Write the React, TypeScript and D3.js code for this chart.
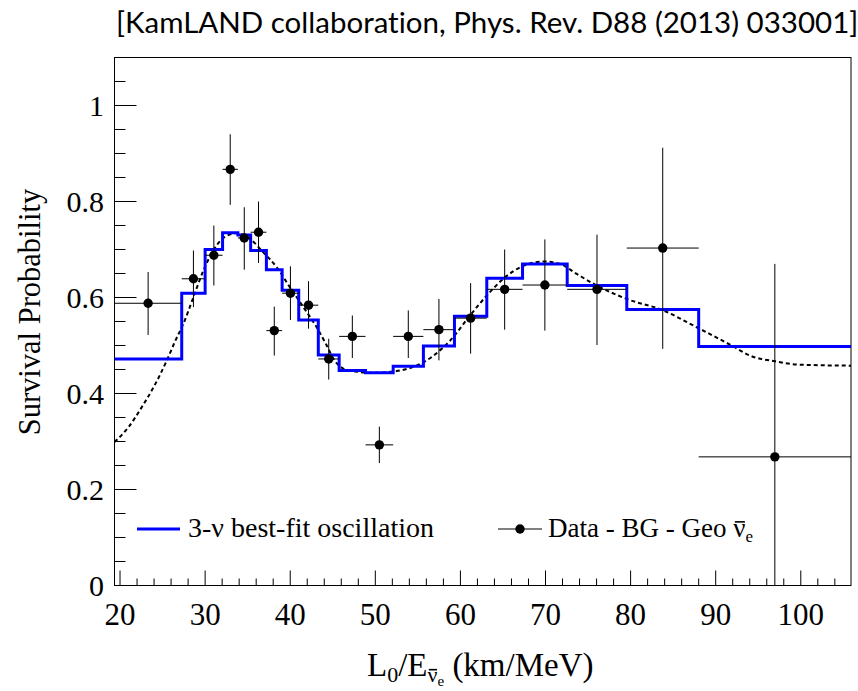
import React, { useLayoutEffect, useRef, useState } from 'react';
import * as d3 from 'd3';

const binEdges = [19.35, 27.25, 30.0, 32.05, 33.85, 35.35, 37.2, 39.05, 41.0, 43.3, 45.75, 48.85, 52.1, 55.65, 59.3, 63.1, 67.3, 72.55, 79.55, 88.0, 105.9];
const bestFit = [0.472, 0.609, 0.700, 0.735, 0.730, 0.698, 0.658, 0.615, 0.553, 0.480, 0.448, 0.443, 0.457, 0.499, 0.561, 0.640, 0.670, 0.625, 0.575, 0.498];
const dataValues = [0.588, 0.639, 0.688, 0.867, 0.724, 0.736, 0.531, 0.609, 0.584, 0.472, 0.519, 0.293, 0.519, 0.533, 0.557, 0.617, 0.626, 0.617, 0.703, 0.268];
const dataLow = [0.522, 0.580, 0.625, 0.793, 0.658, 0.672, 0.479, 0.553, 0.535, 0.429, 0.474, 0.255, 0.474, 0.469, 0.483, 0.533, 0.531, 0.501, 0.493, 0.0];
const dataHigh = [0.653, 0.698, 0.750, 0.940, 0.788, 0.800, 0.581, 0.665, 0.634, 0.514, 0.5625, 0.331, 0.573, 0.597, 0.630, 0.700, 0.721, 0.731, 0.912, 0.670];

const curveX = [19.35, 21.0, 22.5, 24.0, 25.4, 26.5, 27.44, 28.61, 29.79, 30.96, 32.14, 33.71, 35.28, 36.84, 38.41, 39.98, 41.54, 43.11, 44.29, 45.1, 46.24, 48.0, 49.77, 52.9, 55.64, 57.99, 58.78, 61.13, 63.09, 65.24, 67.39, 69.74, 71.7, 73.67, 76.02, 79.54, 83.84, 87.77, 92.07, 94.03, 96.97, 99.9, 105.9];
const curveY = [0.299, 0.33, 0.37, 0.415, 0.465, 0.51, 0.545, 0.60, 0.656, 0.698, 0.724, 0.734, 0.722, 0.694, 0.663, 0.621, 0.58, 0.538, 0.50, 0.472, 0.452, 0.445, 0.443, 0.448, 0.465, 0.496, 0.51, 0.5625, 0.604, 0.642, 0.666, 0.675, 0.670, 0.649, 0.625, 0.597, 0.573, 0.538, 0.498, 0.479, 0.467, 0.46, 0.458];

const xMajorTicks = [20, 30, 40, 50, 60, 70, 80, 90, 100];
const yMajorTicks = [0, 0.2, 0.4, 0.6, 0.8, 1];

const titleText = '[KamLAND collaboration, Phys. Rev. D88 (2013) 033001]';
const yLabel = 'Survival Probability';
const legendModel = '3-ν best-fit oscillation';
const legendData = 'Data - BG - Geo ';

const W = 858;
const H = 691;
const L = 114.5, R = 851, T = 57.5, B = 585.5;

type Bar = { x1: number; x2: number; y: number };

export default function App() {
  const nuLeg = useRef<SVGTSpanElement>(null);
  const nuAx = useRef<SVGTSpanElement>(null);
  const [bars, setBars] = useState<Bar[]>([]);

  useLayoutEffect(() => {
    const out: Bar[] = [];
    [nuLeg.current, nuAx.current].forEach(el => {
      if (!el) return;
      try {
        const ext = el.getExtentOfChar(0);
        // bar just above the x-height of nu
        const fs = parseFloat(el.getAttribute('font-size') || '27');
        const base = ext.y + ext.height * 0.8;
        out.push({ x1: ext.x + fs * 0.06, x2: ext.x + ext.width - fs * 0.02, y: base - fs * 0.56 });
      } catch (e) { /* ignore */ }
    });
    setBars(out);
  }, []);

  const x = d3.scaleLinear().domain([binEdges[0], binEdges[binEdges.length - 1]]).range([L, R]);
  const y = d3.scaleLinear().domain([0, 1.1]).range([B, T]);

  const stepPts: [number, number][] = bestFit.map((v, i) => [binEdges[i], v] as [number, number]);
  stepPts.push([binEdges[binEdges.length - 1], bestFit[bestFit.length - 1]]);
  const stepLine = d3.line<[number, number]>().x(d => x(d[0])).y(d => y(d[1])).curve(d3.curveStepAfter);

  const curvePts: [number, number][] = curveX.map((v, i) => [v, curveY[i]] as [number, number]);
  const smooth = d3.line<[number, number]>().x(d => x(d[0])).y(d => y(d[1])).curve(d3.curveMonotoneX);

  const xMinor = d3.range(20, 106, 2).filter(v => v % 10 !== 0);
  const yMinor = d3.range(0, 1.1001, 0.05).map(v => +v.toFixed(2)).filter(v => Math.abs(v * 5 - Math.round(v * 5)) > 1e-6);

  const serif = '"Liberation Serif", "Times New Roman", serif';

  return (
    <svg width={W} height={H} style={{ position: 'absolute', left: 0, top: 0, background: '#fff' }} fontFamily={serif}>
      <rect x={0} y={0} width={W} height={H} fill="#fff" />
      <defs>
        <clipPath id="plotclip">
          <rect x={L} y={T} width={R - L} height={B - T} />
        </clipPath>
      </defs>
      <text x={116} y={33} fontFamily="Lato, 'Open Sans', sans-serif" fontSize={29.5} fill="#000" style={{ fontVariantLigatures: 'none' }}>{titleText}</text>

      {/* frame */}
      <rect x={L} y={T} width={R - L} height={B - T} fill="none" stroke="#000" strokeWidth={1} />

      {/* y ticks */}
      {yMajorTicks.map(v => (
        <g key={'ym' + v}>
          <line x1={L} x2={L + 22} y1={y(v)} y2={y(v)} stroke="#000" strokeWidth={1} />
          <text x={104} y={y(v)} dy="0.35em" textAnchor="end" fontSize={30}>{String(v)}</text>
        </g>
      ))}
      {yMinor.map(v => (
        <line key={'yn' + v} x1={L} x2={L + 11} y1={y(v)} y2={y(v)} stroke="#000" strokeWidth={1} />
      ))}
      {/* x ticks */}
      {xMajorTicks.map(v => (
        <g key={'xm' + v}>
          <line x1={x(v)} x2={x(v)} y1={B} y2={B - 15} stroke="#000" strokeWidth={1} />
          <text x={x(v)} y={625} textAnchor="middle" fontSize={31}>{String(v)}</text>
        </g>
      ))}
      {xMinor.map(v => (
        <line key={'xn' + v} x1={x(v)} x2={x(v)} y1={B} y2={B - 7} stroke="#000" strokeWidth={1} />
      ))}

      <g clipPath="url(#plotclip)">
        <path d={smooth(curvePts) || ''} fill="none" stroke="#000" strokeWidth={2} strokeDasharray="4 3" />
        <path d={stepLine(stepPts) || ''} fill="none" stroke="#0000ff" strokeWidth={3} />
        {dataValues.map((v, i) => {
          const cx = (binEdges[i] + binEdges[i + 1]) / 2;
          return (
            <g key={'d' + i}>
              <line x1={x(binEdges[i])} x2={x(binEdges[i + 1])} y1={y(v)} y2={y(v)} stroke="#000" strokeWidth={1} />
              <line x1={x(cx)} x2={x(cx)} y1={y(dataLow[i])} y2={y(dataHigh[i])} stroke="#000" strokeWidth={1} />
              <circle cx={x(cx)} cy={y(v)} r={4.7} fill="#000" />
            </g>
          );
        })}
      </g>

      {/* legend */}
      <line x1={137} x2={180} y1={529} y2={529} stroke="#0000ff" strokeWidth={3} />
      <text x={188} y={537} fontSize={28}>{legendModel}</text>
      <line x1={498} x2={542} y1={529} y2={529} stroke="#000" strokeWidth={1} />
      <circle cx={520} cy={529} r={4.7} fill="#000" />
      <text x={548} y={537} fontSize={27}>
        {legendData}<tspan ref={nuLeg} fontSize={27}>ν</tspan>
        <tspan fontSize={17} dy={5}>e</tspan>
      </text>

      {/* axis titles */}
      <text transform={`translate(40, 312) rotate(-90)`} textAnchor="middle" fontSize={30.5}>{yLabel}</text>
      <text x={367} y={676} fontSize={33}>
        L<tspan fontSize={22} dy={6}>0</tspan><tspan dy={-6}>/E</tspan>
        <tspan ref={nuAx} fontSize={22} dy={6}>ν</tspan>
        <tspan fontSize={15} dy={4}>e</tspan>
        <tspan dy={-10}> (km/MeV)</tspan>
      </text>
      {bars.map((b, i) => (
        <line key={'bar' + i} x1={b.x1} x2={b.x2} y1={b.y} y2={b.y} stroke="#000" strokeWidth={1.6} />
      ))}
    </svg>
  );
}
